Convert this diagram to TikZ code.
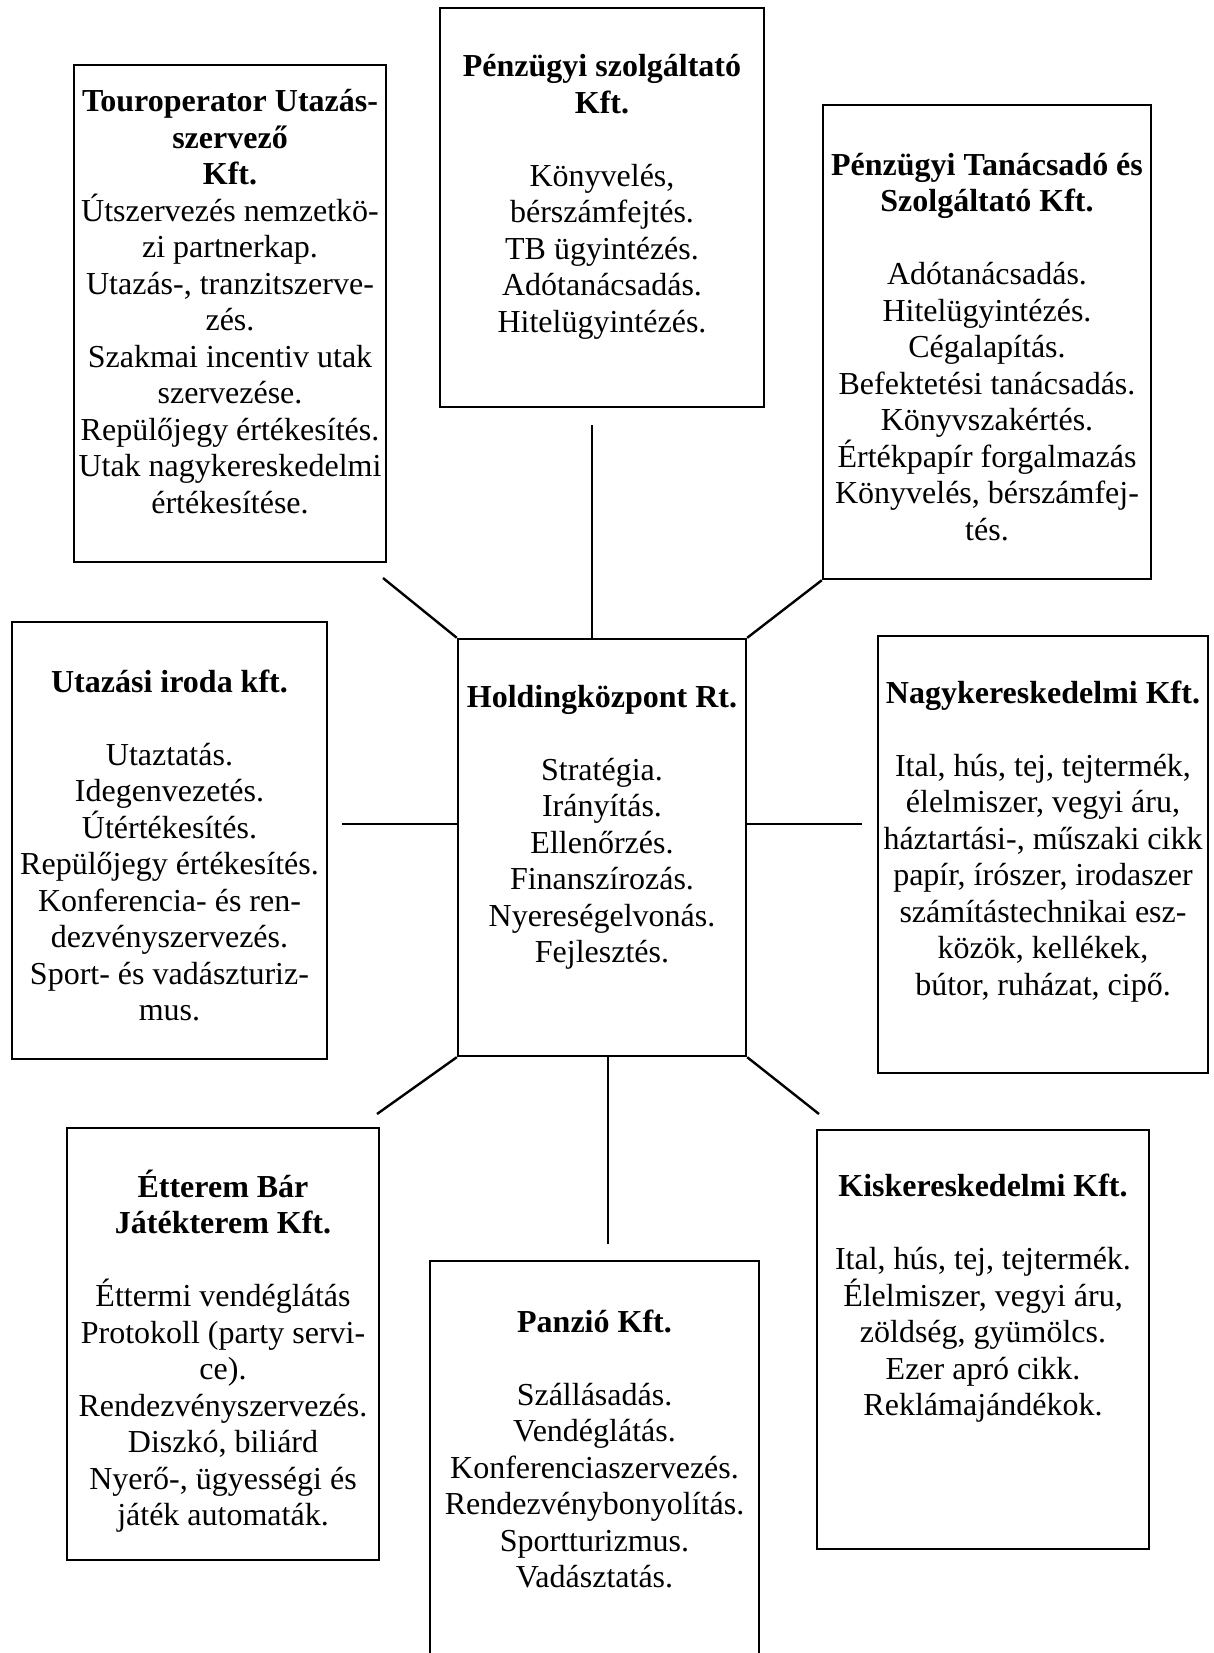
\documentclass[tikz,border=0pt]{standalone}
\usepackage{fontspec}
\setmainfont{Liberation Serif}
\begin{document}
\begin{tikzpicture}[x=1pt,y=-1pt,
  box/.style={draw, line width=2.4pt, rectangle, inner sep=0pt},
  txt/.style={align=center, inner sep=0pt, yshift=-3pt, font=\fontsize{32}{36.5}\selectfont},
  conn/.style={line width=2.4pt}]
\clip (0,0) rectangle (1214,1653);
\fill[white] (0,0) rectangle (1214,1653);
% boxes
\node[box, minimum width=312, minimum height=497] (tour) at (230,313.5) {};
\node[box, minimum width=324, minimum height=399] (penz) at (602,207.5) {};
\node[box, minimum width=328, minimum height=474] (tanacs) at (987,342) {};
\node[box, minimum width=315, minimum height=437] (utaz) at (169.5,840.5) {};
\node[box, minimum width=288, minimum height=417] (hold) at (602,847.5) {};
\node[box, minimum width=330, minimum height=437] (nagy) at (1043,854.5) {};
\node[box, minimum width=312, minimum height=432] (etter) at (223,1344) {};
\node[box, minimum width=329, minimum height=439] (panzio) at (594.5,1480.5) {};
\node[box, minimum width=332, minimum height=419] (kisker) at (983,1339.5) {};
% texts
\node[txt] (ttour) at (230,298.8) {\textbf{Touroperator Utazás-}\\\textbf{szervező}\\\textbf{Kft.}\\Útszervezés nemzetkö-\\zi partnerkap.\\Utazás-, tranzitszerve-\\zés.\\Szakmai incentiv utak\\szervezése.\\Repülőjegy értékesítés.\\Utak nagykereskedelmi\\értékesítése.};
\node[txt] (tpenz) at (602,193.6) {\textbf{Pénzügyi szolgáltató}\\\textbf{Kft.}\\[36.5pt]Könyvelés,\\bérszámfejtés.\\TB ügyintézés.\\Adótanácsadás.\\Hitelügyintézés.};
\node[txt] (ttanacs) at (987,344.1) {\textbf{Pénzügyi Tanácsadó és}\\\textbf{Szolgáltató Kft.}\\[36.5pt]Adótanácsadás.\\Hitelügyintézés.\\Cégalapítás.\\Befektetési tanácsadás.\\Könyvszakértés.\\Értékpapír forgalmazás\\Könyvelés, bérszámfej-\\tés.};
\node[txt] (tutaz) at (169.5,842.5) {\textbf{Utazási iroda kft.}\\[36.5pt]Utaztatás.\\Idegenvezetés.\\Útértékesítés.\\Repülőjegy értékesítés.\\Konferencia- és ren-\\dezvényszervezés.\\Sport- és vadászturiz-\\mus.};
\node[txt] (thold) at (602,824.1) {\textbf{Holdingközpont Rt.}\\[36.5pt]Stratégia.\\Irányítás.\\Ellenőrzés.\\Finanszírozás.\\Nyereségelvonás.\\Fejlesztés.};
\node[txt] (tnagy) at (1043,838.3) {\textbf{Nagykereskedelmi Kft.}\\[36.5pt]Ital, hús, tej, tejtermék,\\élelmiszer, vegyi áru,\\háztartási-, műszaki cikk\\papír, írószer, irodaszer\\számítástechnikai esz-\\közök, kellékek,\\bútor, ruházat, cipő.};
\node[txt] (tetter) at (223,1348.3) {\textbf{Étterem Bár}\\\textbf{Játékterem Kft.}\\[36.5pt]Éttermi vendéglátás\\Protokoll (party servi-\\ce).\\Rendezvényszervezés.\\Diszkó, biliárd\\Nyerő-, ügyességi és\\játék automaták.};
\node[txt] (tpanzio) at (594.5,1445.8) {\textbf{Panzió Kft.}\\[36.5pt]Szállásadás.\\Vendéglátás.\\Konferenciaszervezés.\\Rendezvénybonyolítás.\\Sportturizmus.\\Vadásztatás.};
\node[txt] (tkisker) at (983,1295.6) {\textbf{Kiskereskedelmi Kft.}\\[36.5pt]Ital, hús, tej, tejtermék.\\Élelmiszer, vegyi áru,\\zöldség, gyümölcs.\\Ezer apró cikk.\\Reklámajándékok.};
% connector free ends
\coordinate (c1) at (383,578);
\coordinate (c2) at (592,425);
\coordinate (c4) at (342,824);
\coordinate (c5) at (862,824);
\coordinate (c6) at (377,1114);
\coordinate (c7) at (608,1244);
\coordinate (c8) at (819,1114);
% connectors
\draw[conn] (c1) -- (hold.north west);
\draw[conn] (c2) -- (c2 |- hold.north);
\draw[conn] (tanacs.south west) -- (hold.north east);
\draw[conn] (c4) -- (c4 -| hold.west);
\draw[conn] (hold.east |- c5) -- (c5);
\draw[conn] (hold.south west) -- (c6);
\draw[conn] (c7 |- hold.south) -- (c7);
\draw[conn] (hold.south east) -- (c8);
\end{tikzpicture}
\end{document}
